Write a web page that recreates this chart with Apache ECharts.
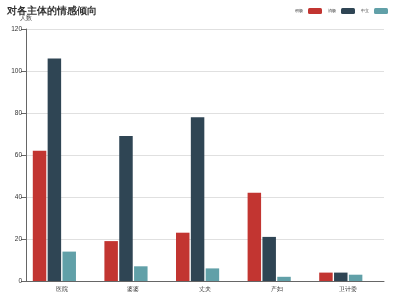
<!DOCTYPE html>
<html><head><meta charset="utf-8">
<script src="https://cdn.jsdelivr.net/npm/echarts@6/dist/echarts.min.js"></script>
<style>html,body{margin:0;padding:0;background:#fff}#c{width:400px;height:300px}</style>
</head><body><div id="c"></div>
<script>
var categories = ['医院', '婆婆', '丈夫', '产妇', '卫计委'];
var positive = [62, 19, 23, 42, 4];
var negative = [106, 69, 78, 21, 4];
var neutral = [14, 7, 6, 2, 3];
var extra = [];
var yTicks = [0, 20, 40, 60, 80, 100, 120];
var seriesNames = ['积极', '消极', '中立'];
var colors = ['#c23531', '#2f4554', '#61a0a8', '#d48265'];

var chart = echarts.init(document.getElementById('c'));
var font = 'sans-serif';
chart.setOption({
  animation: false,
  color: colors,
  title: {text: '对各主体的情感倾向', left: 2, top: 1,
    textStyle: {fontSize: 10, fontWeight: 'bold', color: '#333', fontFamily: font}},
  legend: {data: seriesNames, right: 7, top: 3, itemWidth: 14, itemHeight: 6, itemGap: 6, align: 'right',
    textStyle: {fontSize: 4.3, color: '#333', fontFamily: font}},
  grid: {left: 26, right: 16, top: 29, bottom: 19, containLabel: false},
  xAxis: {type: 'category', data: categories,
    axisLine: {lineStyle: {color: '#666'}},
    axisTick: {lineStyle: {color: '#666'}},
    axisLabel: {fontSize: 6, color: '#333', margin: 5, fontFamily: font}},
  yAxis: {type: 'value', name: '人数', min: yTicks[0], max: yTicks[yTicks.length - 1], interval: 20,
    nameGap: 8, nameTextStyle: {fontSize: 5.5, color: '#333', fontFamily: font, align: 'center'},
    axisLine: {show: true, lineStyle: {color: '#666'}},
    axisTick: {show: true, lineStyle: {color: '#666'}},
    splitLine: {lineStyle: {color: '#e0e0e0'}},
    axisLabel: {fontSize: 6.5, color: '#333', margin: 4, fontFamily: font}},
  series: [
    {name: seriesNames[0], type: 'bar', data: positive},
    {name: seriesNames[1], type: 'bar', data: negative},
    {name: seriesNames[2], type: 'bar', data: neutral},
    {name: '', type: 'bar', data: extra}
  ]
});
</script></body></html>
